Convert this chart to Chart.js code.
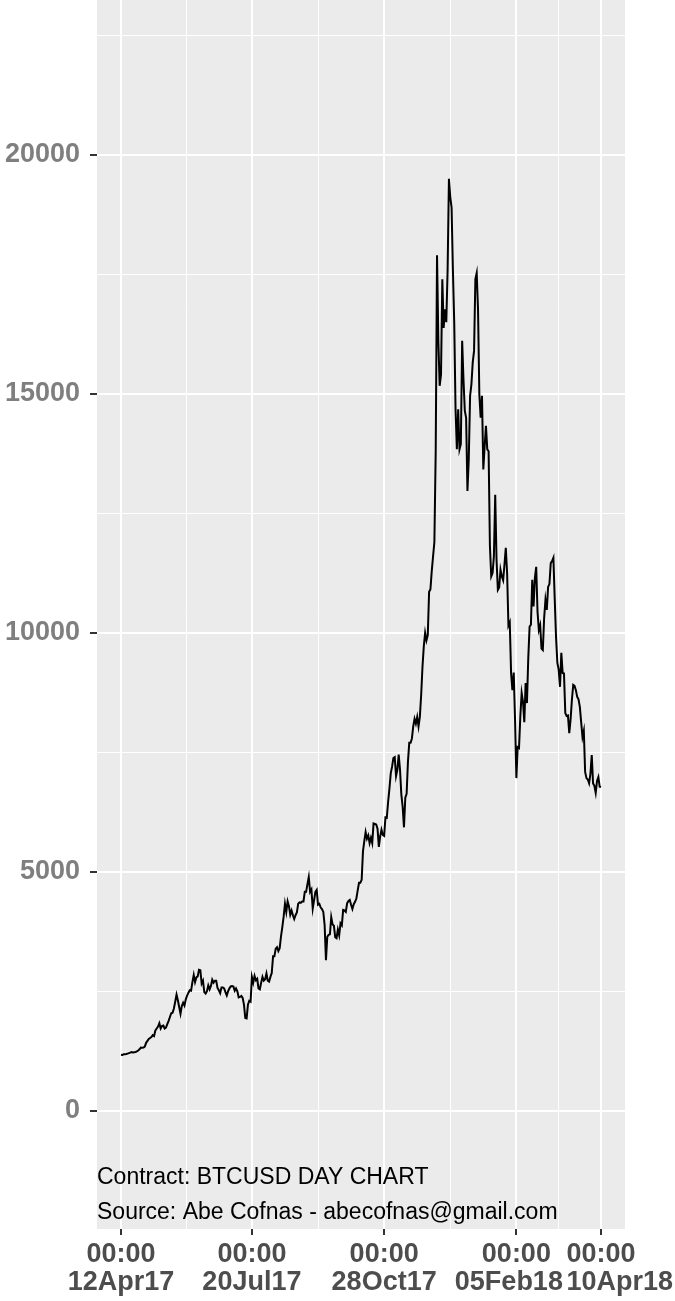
<!DOCTYPE html>
<html>
<head>
<meta charset="utf-8">
<script src="https://cdn.jsdelivr.net/npm/chart.js@4/dist/chart.umd.min.js"></script>
<style>
  html, body { margin: 0; padding: 0; background: #ffffff; }
  #wrap { width: 675px; height: 1301px; position: relative; }
</style>
</head>
<body>
<div id="wrap"><canvas id="c" width="675" height="1301"></canvas></div>
<script>
// ---- Data: BTCUSD daily closes, 12 Apr 2017 .. 10 Apr 2018 (day index 0..363) ----
const startDate = '2017-04-12';
const apr17 = [1170,1165,1180,1180,1185,1195,1205,1215,1225,1220,1225,1230,1240,1260,1285,1320,1315,1320,1340];
const may17 = [1420,1460,1500,1520,1540,1580,1560,1680,1720,1760,1830,1720,1770,1780,1720,1740,1810,1880,1960,2040,2050,2140,2280,2430,2310,2170,2030,2190,2260,2200,2330];
const jun17 = [2410,2470,2520,2510,2690,2840,2690,2790,2810,2950,2940,2660,2720,2480,2450,2500,2620,2540,2610,2740,2680,2720,2720,2570,2520,2460,2580,2580,2560,2480];
const jul17 = [2410,2500,2560,2600,2610,2600,2510,2560,2500,2370,2380,2400,2360,2220,1940,1930,2220,2300,2280,2800,2680,2820,2730,2760,2560,2540,2680,2800,2720,2750,2870];
const aug17 = [2720,2700,2800,2880,3230,3230,3390,3420,3340,3400,3650,3840,4060,4330,4160,4380,4280,4100,4190,4090,4010,4090,4150,4330,4360,4350,4380,4380,4580,4580,4740];
const sep17 = [4890,4580,4630,4230,4400,4580,4620,4310,4330,4250,4220,4160,3880,3150,3640,3680,3690,4050,3900,3870,3630,3610,3790,3670,3920,3880,4200,4190,4160,4340];
const oct17 = [4390,4410,4310,4220,4320,4370,4440,4610,4770,4770,4830,5430,5640,5830,5690,5760,5600,5710,5600,6010,6000,5990,5900,5520,5740,5880,5770,5750,6140,6130,6460];
const nov17 = [6740,7060,7200,7380,7400,7000,7130,7450,7140,6620,6360,5930,6550,6630,7300,7700,7700,7790,8040,8200,8100,8240,8040,8240,8700,9290,9720,10000,9840,9950];
const dec17 = [10860,10910,11290,11600,11900,13800,17900,16100,15170,15400,17400,16380,16770,16500,17600,19500,19120,18900,17600,16500,14680,13840,14680,13840,13950,16110,15300,14650,14500,12970,13630];
const jan18 = [14960,15200,15660,15900,17400,17530,16770,14990,14500,14960,13420,13900,14330,13840,13800,11810,11180,11250,11600,12890,11530,10900,10950,11320,11180,11100,11430,11780,11250,10150,10220];
const feb18 = [9160,8800,9170,8190,6960,7610,7590,8260,8740,8560,8130,8950,8530,9470,10130,10170,11110,10550,11150,11380,10440,10060,10160,9670,9640,10310,10690,10480];
const mar18 = [10960,11020,11460,11500,11570,10710,9910,9370,9230,8870,9580,9160,9150,8320,8260,8270,7900,8190,8600,8910,8890,8800,8660,8610,8450,8130,7820,7950,7090,6960,6930];
const apr18 = [6850,7050,7440,6850,6800,6650,6900,6980,6780,6770];

// ---- Axis ticks ----
const xTickDays   = [0, 99, 199, 299, 363];
const xTickLabels = [['00:00','12Apr17'], ['00:00','20Jul17'], ['00:00','28Oct17'], ['00:00','05Feb18  '], ['00:00','     10Apr18']];
const xMinorDays  = [49.5, 149, 249, 331];
const yMajorTicks = [0, 5000, 10000, 15000, 20000];
const yMinorTicks = [2500, 7500, 12500, 17500, 22500];
const captions = ['Contract: BTCUSD DAY CHART', 'Source: Abe Cofnas - abecofnas@gmail.com'];
const captionValues = [-1408, -2141];

const closes = [].concat(apr17, may17, jun17, jul17, aug17, sep17, oct17, nov17, dec17, jan18, feb18, mar18, apr18);
const points = closes.map((v, i) => ({ x: i, y: v }));

const FONT = '"Liberation Sans", Arial, Helvetica, sans-serif';

const panelBg = {
  id: 'panelBg',
  beforeDraw(chart) {
    const { ctx, chartArea: a } = chart;
    ctx.save();
    ctx.fillStyle = '#EBEBEB';
    ctx.fillRect(a.left, a.top, a.right - a.left, a.bottom - a.top);
    ctx.restore();
  }
};

const captionPlugin = {
  id: 'captionPlugin',
  afterDatasetsDraw(chart) {
    const { ctx, chartArea: a, scales } = chart;
    ctx.save();
    ctx.fillStyle = '#000000';
    ctx.font = '23px ' + FONT;
    ctx.textAlign = 'left';
    ctx.textBaseline = 'middle';
    captions.forEach((t, i) => {
      ctx.fillText(t, a.left, scales.y.getPixelForValue(captionValues[i]));
    });
    ctx.restore();
  }
};

const isXMajor = v => xTickDays.indexOf(v) !== -1;
const isYMajor = v => yMajorTicks.indexOf(v) !== -1;

new Chart(document.getElementById('c'), {
  type: 'line',
  data: {
    datasets: [{
      data: points,
      borderColor: '#000000',
      borderWidth: 2,
      pointRadius: 0,
      tension: 0,
      fill: false
    }]
  },
  options: {
    responsive: false,
    animation: false,
    layout: { padding: { left: 0, right: 50, top: 0, bottom: 0 } },
    plugins: { legend: { display: false }, tooltip: { enabled: false } },
    scales: {
      x: {
        type: 'linear',
        min: -18.15,
        max: 381.15,
        afterFit(s) { s.height = 72; s.paddingLeft = 0; s.paddingRight = 0; },
        afterBuildTicks(s) {
          s.ticks = xTickDays.concat(xMinorDays).sort((a, b) => a - b).map(v => ({ value: v }));
        },
        border: { display: false },
        grid: {
          color: '#FFFFFF',
          lineWidth: c => (c.tick && isXMajor(c.tick.value)) ? 2 : 1,
          tickColor: c => (c.tick && isXMajor(c.tick.value)) ? '#333333' : 'rgba(0,0,0,0)',
          tickLength: 6,
          tickWidth: 2
        },
        ticks: {
          autoSkip: false,
          maxRotation: 0,
          minRotation: 0,
          padding: 6,
          color: '#4D4D4D',
          font: { family: FONT, size: 27, weight: 'bold', lineHeight: 28 / 27 },
          callback(v) {
            const i = xTickDays.indexOf(v);
            return i === -1 ? '' : xTickLabels[i];
          }
        }
      },
      y: {
        type: 'linear',
        min: -2476,
        max: 23243,
        afterFit(s) { s.width = 97; s.paddingTop = 0; s.paddingBottom = 0; },
        afterBuildTicks(s) {
          s.ticks = yMajorTicks.concat(yMinorTicks).sort((a, b) => a - b).map(v => ({ value: v }));
        },
        border: { display: false },
        grid: {
          color: '#FFFFFF',
          lineWidth: c => (c.tick && isYMajor(c.tick.value)) ? 2 : 1,
          tickColor: c => (c.tick && isYMajor(c.tick.value)) ? '#333333' : 'rgba(0,0,0,0)',
          tickLength: 7,
          tickWidth: 2
        },
        ticks: {
          padding: 10,
          color: '#7F7F7F',
          font: { family: FONT, size: 27, weight: 'bold' },
          callback(v) { return isYMajor(v) ? String(v) : ''; }
        }
      }
    }
  },
  plugins: [panelBg, captionPlugin]
});
</script>
</body>
</html>
